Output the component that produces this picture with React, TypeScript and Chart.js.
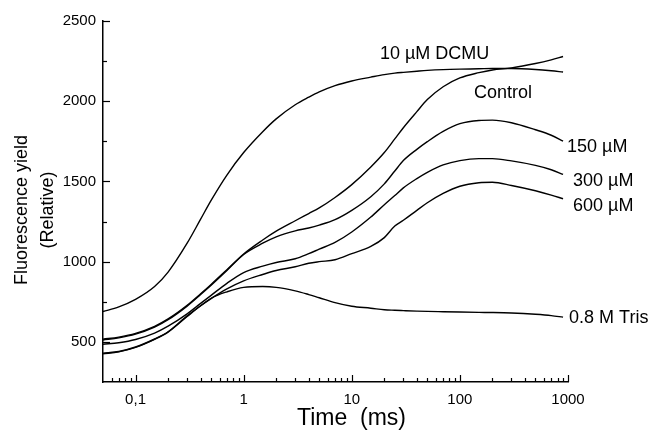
import React, { useEffect, useRef } from "react";
import { Chart, registerables } from "chart.js";

Chart.register(...registerables);

const FONT = "'Liberation Sans', Arial, Helvetica, sans-serif";

// Time axis (ms), shared by every trace
const timeMs = [0.05, 0.07, 0.1, 0.15, 0.2, 0.3, 0.4, 0.5, 0.7, 1, 1.5, 2, 3, 4, 5, 7, 10, 15, 20, 25, 30, 40, 50, 70, 100, 150, 200, 300, 500, 700, 900];

const dcmu = [689, 718, 765, 845, 935, 1115, 1265, 1382, 1540, 1680, 1810, 1890, 1978, 2025, 2058, 2097, 2126, 2150, 2166, 2175, 2180, 2187, 2192, 2197, 2200, 2202, 2204, 2204, 2198, 2190, 2182];
const control = [517, 530, 553, 597, 643, 728, 800, 858, 950, 1048, 1135, 1190, 1255, 1300, 1335, 1400, 1480, 1590, 1680, 1765, 1835, 1935, 2010, 2090, 2145, 2178, 2195, 2208, 2235, 2258, 2279];
const uM150 = [512, 525, 548, 592, 638, 723, 795, 853, 945, 1045, 1115, 1155, 1192, 1210, 1228, 1262, 1320, 1405, 1485, 1565, 1630, 1700, 1748, 1812, 1860, 1880, 1882, 1866, 1822, 1788, 1752];
const uM300 = [485, 495, 515, 555, 598, 675, 740, 790, 865, 932, 972, 995, 1018, 1050, 1078, 1120, 1185, 1278, 1355, 1412, 1460, 1518, 1557, 1603, 1630, 1642, 1642, 1628, 1600, 1573, 1544];
const uM600 = [430, 440, 468, 518, 563, 662, 725, 770, 830, 880, 920, 945, 968, 990, 1000, 1012, 1050, 1095, 1150, 1222, 1258, 1320, 1367, 1425, 1470, 1492, 1495, 1475, 1442, 1415, 1392];
const tris = [425, 438, 466, 516, 561, 658, 725, 772, 812, 840, 845, 840, 818, 795, 775, 745, 722, 710, 700, 697, 695, 692, 690, 688, 686, 684, 683, 680, 672, 664, 654];

const seriesNames = ["10 µM DCMU", "Control", "150 µM", "300 µM", "600 µM", "0.8 M Tris"];
const seriesValues = [dcmu, control, uM150, uM300, uM600, tris];

const xTickValues = [0.1, 1, 10, 100, 1000];
const xTickLabels = ["0,1", "1", "10", "100", "1000"];
const yTickValues = [500, 1000, 1500, 2000, 2500];

const xTitle = "Time  (ms)";
const yTitleLines = ["Fluorescence yield", "(Relative)"];

const overlayPlugin = {
  id: "overlay",
  afterDraw(chart: any) {
    const { ctx, chartArea } = chart;
    const xs = chart.scales.x;
    const ys = chart.scales.y;
    ctx.save();
    ctx.strokeStyle = "#000";
    ctx.fillStyle = "#000";
    ctx.lineWidth = 1.2;
    // x ticks (inward)
    for (let d = 0.01; d <= 1000; d *= 10) {
      for (let m = 1; m <= 9; m++) {
        const v = Math.round(m * d * 1e6) / 1e6;
        if (v < xs.min * 1.001 || v > xs.max * 1.0001) continue;
        const px = Math.round(xs.getPixelForValue(v)) + 0.5;
        const len = m === 1 ? 7 : 4;
        ctx.beginPath();
        ctx.moveTo(px, chartArea.bottom);
        ctx.lineTo(px, chartArea.bottom - len);
        ctx.stroke();
      }
    }
    // y ticks (inward)
    for (let v = 500; v <= 2500; v += 250) {
      const py = Math.round(ys.getPixelForValue(v)) + 0.5;
      const len = v % 500 === 0 ? 7 : 4;
      ctx.beginPath();
      ctx.moveTo(chartArea.left, py);
      ctx.lineTo(chartArea.left + len, py);
      ctx.stroke();
    }
    // axis titles
    ctx.font = `23px ${FONT}`;
    ctx.textAlign = "left";
    ctx.textBaseline = "alphabetic";
    ctx.fillText(xTitle, 297, 425);
    ctx.font = `18px ${FONT}`;
    ctx.textAlign = "center";
    const yc = 210;
    [26.5, 52.5].forEach((bx, i) => {
      ctx.save();
      ctx.translate(bx, yc);
      ctx.rotate(-Math.PI / 2);
      ctx.fillText(yTitleLines[i], 0, 0);
      ctx.restore();
    });
    // curve labels
    ctx.font = `18px ${FONT}`;
    ctx.textAlign = "left";
    const lastX = xs.getPixelForValue(timeMs[timeMs.length - 1]);
    const endY = (arr: number[]) => ys.getPixelForValue(arr[arr.length - 1]);
    ctx.fillText(seriesNames[0], xs.getPixelForValue(18.2), ys.getPixelForValue(2262));
    ctx.fillText(seriesNames[1], xs.getPixelForValue(135), ys.getPixelForValue(2020));
    ctx.fillText(seriesNames[2], lastX + 4, endY(uM150) + 11);
    ctx.fillText(seriesNames[3], lastX + 10, endY(uM300) + 12);
    ctx.fillText(seriesNames[4], lastX + 10, endY(uM600) + 12);
    ctx.fillText(seriesNames[5], lastX + 6, endY(tris) + 6);
    ctx.restore();
  },
};

export default function App() {
  const canvasRef = useRef<HTMLCanvasElement | null>(null);

  useEffect(() => {
    if (!canvasRef.current) return;
    Chart.defaults.font.family = FONT;
    const chart = new Chart(canvasRef.current, {
      type: "line",
      data: {
        datasets: seriesValues.map((vals, si) => ({
          label: seriesNames[si],
          data: timeMs.map((t, i) => ({ x: t, y: vals[i] })),
          borderColor: "#000",
          backgroundColor: "#000",
          borderWidth: 1.4,
          pointRadius: 0,
          fill: false,
          cubicInterpolationMode: "monotone" as const,
        })),
      },
      options: {
        animation: false,
        responsive: false,
        maintainAspectRatio: false,
        layout: { padding: { left: 0, right: 87, top: 21, bottom: 0 } },
        plugins: { legend: { display: false }, tooltip: { enabled: false }, title: { display: false } },
        scales: {
          x: {
            type: "logarithmic",
            position: "bottom",
            min: 0.05,
            max: 1000,
            grid: { display: false, drawTicks: false },
            border: { display: true, color: "#000", width: 1.5 },
            ticks: {
              color: "#000",
              font: { size: 15, family: FONT },
              padding: 9,
              autoSkip: false,
              maxRotation: 0,
              callback: (v: any) => {
                const idx = xTickValues.findIndex((t) => Math.abs(t - Number(v)) < t * 1e-6);
                return idx >= 0 ? xTickLabels[idx] : "";
              },
            },
            afterBuildTicks: (s: any) => {
              s.ticks = xTickValues.map((v) => ({ value: v }));
            },
            afterFit: (s: any) => {
              s.height = 54;
            },
          },
          y: {
            type: "linear",
            min: 250,
            max: 2500,
            grid: { display: false, drawTicks: false },
            border: { display: true, color: "#000", width: 1.5 },
            ticks: {
              color: "#000",
              font: { size: 15, family: FONT },
              padding: 7,
              callback: (v: any) => String(v),
            },
            afterBuildTicks: (s: any) => {
              s.ticks = yTickValues.map((v) => ({ value: v }));
            },
            afterFit: (s: any) => {
              s.width = 103;
            },
          },
        },
      },
      plugins: [overlayPlugin],
    });
    return () => chart.destroy();
  }, []);

  return (
    <div style={{ position: "fixed", left: 0, top: 0, width: 655, height: 436, background: "#fff" }}>
      <canvas ref={canvasRef} width={655} height={436} style={{ display: "block" }} />
    </div>
  );
}
